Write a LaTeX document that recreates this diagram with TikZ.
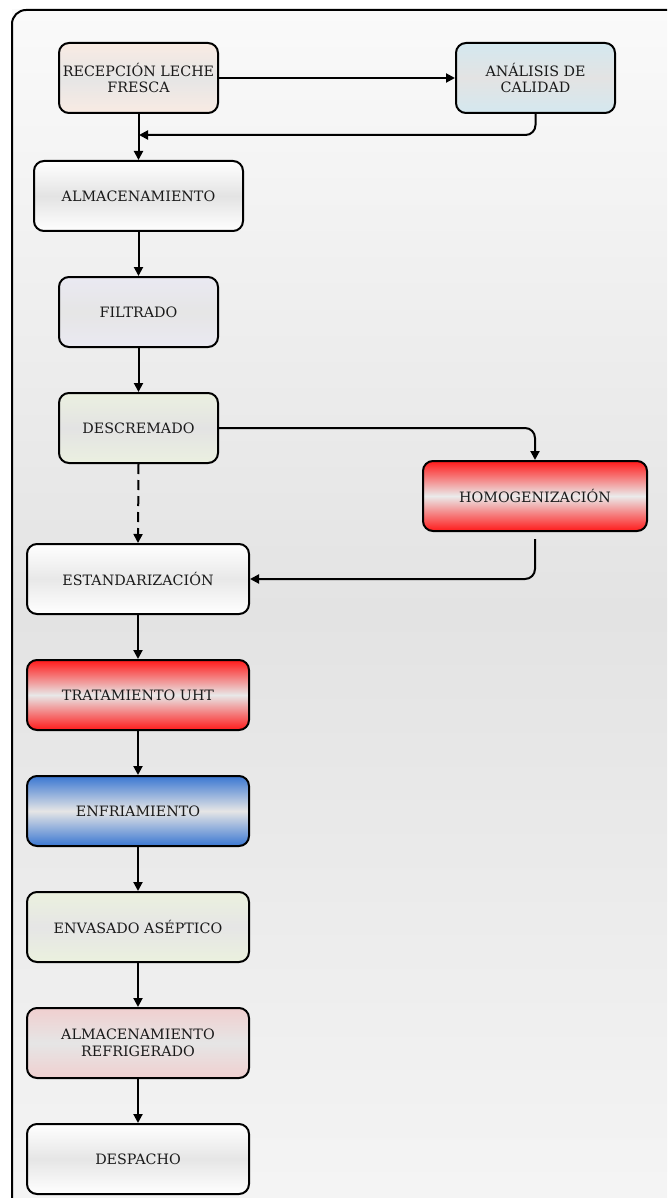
\documentclass[tikz,border=0pt]{standalone}
\usepackage{fontspec}
\setmainfont{DejaVu Serif}
\usetikzlibrary{arrows.meta}
\definecolor{txt}{HTML}{1A1A1A}
\definecolor{cRec}{HTML}{F9EBE3}
\definecolor{cAna}{HTML}{D4E8EF}
\definecolor{cFil}{HTML}{EAE9F2}
\definecolor{cDes}{HTML}{EBF0E0}
\definecolor{cRed}{HTML}{FF1A1A}
\definecolor{cBlue}{HTML}{3A77D2}
\definecolor{cEnv}{HTML}{EBF1DE}
\definecolor{cRef}{HTML}{F0CFCF}
\begin{document}
\begin{tikzpicture}[x=1pt,y=-1pt,
  box/.style={draw=black, line width=2pt, rounded corners=10pt, minimum height=70pt,
    align=center, text=txt, inner sep=2pt, font=\fontsize{14.3}{16.5}\selectfont},
  conn/.style={line width=2pt, -{Triangle[length=9pt,width=9pt]}},
  grad/.style n args={2}{top color=#1, bottom color=#1, middle color=#2}]
\useasboundingbox (0,0) rectangle (667,1198);
\begin{scope}
\clip (0,0) rectangle (667,1198);
\path[top color=white!98!black, bottom color=white!96!black, middle color=white!89!black]
  (12,10) rectangle (690,1215);
\draw[line width=2pt, rounded corners=14pt] (12,1230) -- (12,10) -- (700,10);
\end{scope}
\node[box, minimum width=159pt, grad={cRec}{white!90!black}] (rec) at (138.5,78) {RECEPCIÓN LECHE\\FRESCA};
\node[box, minimum width=159pt, grad={cAna}{white!89!black}] (ana) at (535.5,78) {ANÁLISIS DE\\CALIDAD};
\node[box, minimum width=209pt, grad={white}{white!89!black}] (alm) at (138.5,196) {ALMACENAMIENTO};
\node[box, minimum width=159pt, grad={cFil}{white!90!black}] (fil) at (138.5,312) {FILTRADO};
\node[box, minimum width=159pt, grad={cDes}{white!89!black}] (des) at (138.5,428) {DESCREMADO};
\node[box, minimum width=224pt, grad={cRed}{white!92!black}] (hom) at (535,496) {HOMOGENIZACIÓN};
\node[box, minimum width=222pt, grad={white}{white!91!black}] (est) at (138,579) {ESTANDARIZACIÓN};
\node[box, minimum width=222pt, grad={cRed}{white!91!black}] (uht) at (138,695) {TRATAMIENTO UHT};
\node[box, minimum width=222pt, grad={cBlue}{white!90!black}] (enf) at (138,811) {ENFRIAMIENTO};
\node[box, minimum width=222pt, grad={cEnv}{white!90!black}] (env) at (138,927) {ENVASADO ASÉPTICO};
\node[box, minimum width=222pt, grad={cRef}{white!90!black}] (ref) at (138,1043) {ALMACENAMIENTO\\REFRIGERADO};
\node[box, minimum width=222pt, grad={white}{white!90!black}] (dsp) at (138,1159) {DESPACHO};
\coordinate (j1) at (138.5,135);
\draw[conn] (rec.east) -- (ana.west);
\draw[conn, rounded corners=10pt, shorten >=0.5pt] (ana.south) |- (j1);
\draw[conn] (rec.south) -- (alm.north);
\draw[conn] (alm.south) -- (fil.north);
\draw[conn] (fil.south) -- (des.north);
\draw[conn, rounded corners=10pt] (des.east) -| (hom.north);
\draw[conn, dash pattern=on 10pt off 6pt] (des.south) -- (est.north);
\draw[conn, rounded corners=10pt, shorten <=7pt] (hom.south) |- (est.east);
\draw[conn] (est.south) -- (uht.north);
\draw[conn] (uht.south) -- (enf.north);
\draw[conn] (enf.south) -- (env.north);
\draw[conn] (env.south) -- (ref.north);
\draw[conn] (ref.south) -- (dsp.north);
\end{tikzpicture}
\end{document}
